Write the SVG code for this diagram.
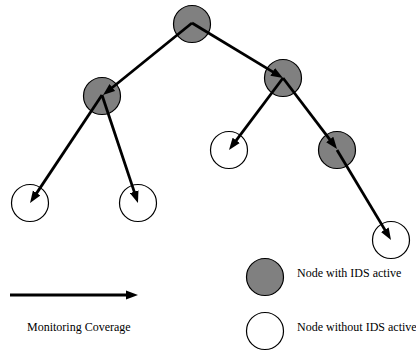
<svg xmlns="http://www.w3.org/2000/svg" width="416" height="351" viewBox="0 0 416 351">
<style>
.ids{fill:#808080;stroke:#000;stroke-width:1.2}
.no{fill:#fff;stroke:#000;stroke-width:1.2}
.e{stroke:#000;stroke-width:2.8;fill:none;marker-end:url(#ah)}
.t{font-family:"Liberation Serif","Times New Roman",serif;font-size:12px;fill:#000}
</style>
<defs>
<marker id="ah" markerUnits="userSpaceOnUse" markerWidth="13" markerHeight="10" refX="4" refY="4.5" orient="auto" viewBox="0 0 13 9">
<path d="M0,0 L12,4.5 L0,9 z" fill="#000"/>
</marker>
</defs>
<rect width="416" height="351" fill="#fff"/>
<g id="n-root"><circle class="ids" cx="192" cy="24" r="18.5"/></g>
<g id="n-l"><circle class="ids" cx="102" cy="96" r="18.5"/></g>
<g id="n-r"><circle class="ids" cx="283" cy="78" r="18.5"/></g>
<g id="n-m"><circle class="no" cx="229" cy="150" r="18.5"/></g>
<g id="n-rr"><circle class="ids" cx="337" cy="150" r="18.5"/></g>
<g id="n-ll"><circle class="no" cx="30" cy="203" r="18.5"/></g>
<g id="n-lr"><circle class="no" cx="138" cy="203" r="18.5"/></g>
<g id="n-rrr"><circle class="no" cx="391" cy="240" r="18.5"/></g>
<g id="connectors">
<line class="e" x1="192" y1="23" x2="109.25" y2="90.01"/>
<line class="e" x1="192" y1="23" x2="276.12" y2="73.92"/>
<line class="e" x1="283" y1="78" x2="233.8" y2="143.6"/>
<line class="e" x1="283" y1="78" x2="332.16" y2="142.63"/>
<line class="e" x1="102" y1="95" x2="34.47" y2="196.36"/>
<line class="e" x1="102" y1="95" x2="135.45" y2="195.42"/>
<line class="e" x1="337" y1="150" x2="386.88" y2="233.14"/>
</g>
<g id="legend">
<line class="e" x1="10" y1="295" x2="130" y2="295"/>
<text class="t" x="27" y="331">Monitoring Coverage</text>
<circle class="ids" cx="265" cy="277" r="18.5"/>
<text class="t" x="297" y="277">Node with IDS active</text>
<circle class="no" cx="265" cy="331" r="18.5"/>
<text class="t" x="297" y="331">Node without IDS active</text>
</g>
</svg>
